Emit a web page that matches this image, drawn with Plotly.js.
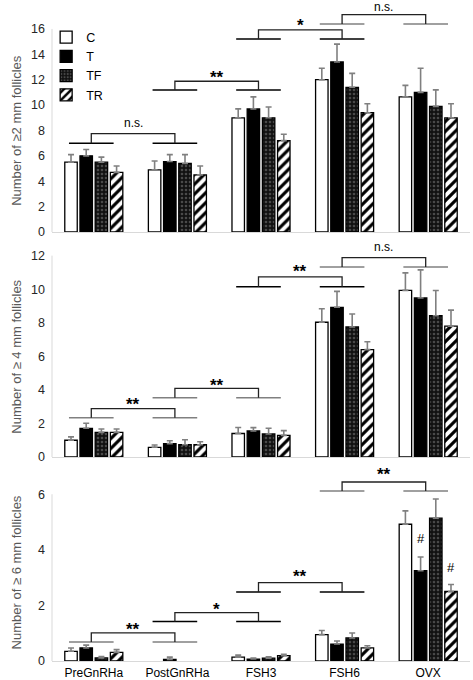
<!DOCTYPE html>
<html><head><meta charset="utf-8">
<script src="https://cdn.plot.ly/plotly-3.0.1.min.js"></script>
<style>html,body{margin:0;padding:0;background:#fff;}</style>
</head><body><div id="chart" style="width:473px;height:680px;"></div>
<script>
// ---- data ----
const categories = ['PreGnRHa','PostGnRHa','FSH3','FSH6','OVX'];
const seriesNames = ['C','T','TF','TR'];

// >=2 mm follicles
const mm2_C  = [5.5, 4.9, 9.0, 12.0, 10.65];
const mm2_T  = [6.0, 5.55, 9.7, 13.4, 11.0];
const mm2_TF = [5.5, 5.4, 9.0, 11.4, 9.9];
const mm2_TR = [4.7, 4.5, 7.2, 9.4, 9.0];
const mm2_C_err  = [0.6, 0.7, 0.7, 0.9, 0.9];
const mm2_T_err  = [0.5, 0.55, 0.95, 1.4, 1.9];
const mm2_TF_err = [0.4, 0.7, 0.85, 1.1, 1.3];
const mm2_TR_err = [0.5, 0.7, 0.5, 0.7, 1.1];

// >=4 mm follicles
const mm4_C  = [1.0, 0.58, 1.4, 8.03, 9.93];
const mm4_T  = [1.71, 0.8, 1.55, 8.92, 9.48];
const mm4_TF = [1.47, 0.73, 1.37, 7.75, 8.42];
const mm4_TR = [1.47, 0.73, 1.29, 6.4, 7.8];
const mm4_C_err  = [0.2, 0.14, 0.36, 0.8, 1.04];
const mm4_T_err  = [0.3, 0.17, 0.2, 0.95, 1.67];
const mm4_TF_err = [0.2, 0.3, 0.34, 0.77, 1.5];
const mm4_TR_err = [0.2, 0.18, 0.28, 0.47, 0.95];

// >=6 mm follicles
const mm6_C  = [0.35, null, 0.14, 0.95, 4.92];
const mm6_T  = [0.47, 0.06, 0.07, 0.61, 3.25];
const mm6_TF = [0.11, null, 0.1, 0.83, 5.14];
const mm6_TR = [0.31, null, 0.19, 0.47, 2.5];
const mm6_C_err  = [0.12, null, 0.07, 0.15, 0.48];
const mm6_T_err  = [0.1, 0.08, 0.04, 0.11, 0.49];
const mm6_TF_err = [0.05, null, 0.05, 0.18, 0.69];
const mm6_TR_err = [0.1, null, 0.05, 0.08, 0.25];

// y axis ticks
const ticks2 = [0,2,4,6,8,10,12,14,16];
const ticks4 = [0,2,4,6,8,10,12];
const ticks6 = [0,2,4,6];

// significance brackets: [groupA, groupB, armBaseY, bracketTopY, label, labelY, armColor]
const brackets2 = [
  [0, 1, 7.0, 7.75, 'n.s.', 8.6, '#000'],
  [1, 2, 11.19, 11.88, '**', 12.5, '#000'],
  [2, 3, 15.21, 15.92, '*', 16.6, '#000'],
  [3, 4, 16.39, 17.12, 'n.s.', 17.72, '#808080']
];
const brackets4 = [
  [0, 1, 2.34, 2.88, '**', 3.35, '#808080'],
  [1, 2, 3.53, 4.09, '**', 4.5, '#808080'],
  [2, 3, 10.15, 10.73, '**', 11.3, '#000'],
  [3, 4, 11.32, 11.88, 'n.s.', 12.5, '#808080']
];
const brackets6 = [
  [0, 1, 0.68, 1.01, '**', 1.28, '#808080'],
  [1, 2, 1.42, 1.74, '*', 2.0, '#000'],
  [2, 3, 2.48, 2.82, '**', 3.2, '#000'],
  [3, 4, 6.12, 6.44, '**', 6.86, '#808080']
];
// '#' marks: [category index, series index, y]
const hashMarks6 = [[4, 1, 4.4], [4, 3, 3.38]];

const yTitles = ['Number of ≥2 mm follicles', 'Number of ≥ 4 mm follicles', 'Number of ≥ 6 mm follicles'];

// ---- styles ----
const FONT = 'Liberation Sans, Arial, sans-serif';
const styles = {
  C:  {color:'#ffffff'},
  T:  {color:'#000000'},
  TF: {color:'#111111', pattern:{shape:'.', fgcolor:'#4a4a4a', bgcolor:'#111111', size:4, solidity:0.35}},
  TR: {color:'#ffffff', pattern:{shape:'/', fgcolor:'#000000', bgcolor:'#ffffff', size:7, solidity:0.45}}
};

const panels = [
  {vals:[mm2_C,mm2_T,mm2_TF,mm2_TR], errs:[mm2_C_err,mm2_T_err,mm2_TF_err,mm2_TR_err], xa:'x', ya:'y', br:brackets2, title:yTitles[0], tcy:8},
  {vals:[mm4_C,mm4_T,mm4_TF,mm4_TR], errs:[mm4_C_err,mm4_T_err,mm4_TF_err,mm4_TR_err], xa:'x2', ya:'y2', br:brackets4, title:yTitles[1], tcy:6},
  {vals:[mm6_C,mm6_T,mm6_TF,mm6_TR], errs:[mm6_C_err,mm6_T_err,mm6_TF_err,mm6_TR_err], xa:'x3', ya:'y3', br:brackets6, title:yTitles[2], tcy:3.2}
];

const traces = [];
panels.forEach((p, pi) => {
  seriesNames.forEach((s, si) => {
    const marker = {color: styles[s].color, line:{color:'#000', width:1.3}};
    if (styles[s].pattern) marker.pattern = styles[s].pattern;
    traces.push({
      type:'bar', name:s, x:categories, y:p.vals[si],
      xaxis:p.xa, yaxis:p.ya, marker:marker,
      legendgroup:s, showlegend: pi === 0,
      error_y:{type:'data', array:p.errs[si], symmetric:false, arrayminus:p.errs[si].map(()=>0),
               color:'#808080', thickness:1.6, width:3},
      hoverinfo:'skip'
    });
  });
});

const shapes = [];
const annotations = [];
const ARM = 0.267, OFF = -0.03;
panels.forEach((p, pi) => {
  // left axis line (to top tick only)
  const topTick = [ticks2, ticks4, ticks6][pi].slice(-1)[0];
  shapes.push({type:'line', xref:'paper', yref:p.ya, x0:0, x1:0, y0:0, y1:topTick, line:{color:'#d9d9d9', width:1}});
  p.br.forEach(b => {
    const [a, c, base, top, label, ly, col] = b;
    const xa = a + OFF, xb = c + OFF;
    shapes.push({type:'line', xref:p.xa, yref:p.ya, x0:xa-ARM, x1:xa+ARM, y0:base, y1:base, line:{color:col, width:1.5}});
    shapes.push({type:'line', xref:p.xa, yref:p.ya, x0:xb-ARM, x1:xb+ARM, y0:base, y1:base, line:{color:col, width:1.5}});
    shapes.push({type:'path', xref:p.xa, yref:p.ya,
      path:`M${xa},${base} L${xa},${top} L${xb},${top} L${xb},${base}`, line:{color:'#222', width:1.3}});
    const isStar = label !== 'n.s.';
    annotations.push({xref:p.xa, yref:p.ya, x:(xa+xb)/2, y:ly, text: isStar ? '<b>'+label+'</b>' : label, showarrow:false,
      yshift: isStar ? -4 : 0,
      font:{family:FONT, size: isStar ? 17 : 12, color:'#000'}});
  });
  annotations.push({xref:'paper', yref:p.ya, x:-0.108, y:p.tcy, text:p.title, textangle:-90, showarrow:false,
    font:{family:FONT, size:13, color:'#595959'}});
});
hashMarks6.forEach(h => {
  annotations.push({xref:'x3', yref:'y3', x:h[0] - 0.273 + h[1]*0.182, y:h[2], text:'#', showarrow:false,
    font:{family:FONT, size:13, color:'#000'}});
});

const yBase = {showgrid:false, zeroline:false, showline:false, ticks:'', tickfont:{family:FONT, size:12.5, color:'#262626'}, ticklabelstandoff:6, fixedrange:true};
const xBase = {type:'category', range:[-0.5, 4.5], showgrid:false, zeroline:false, showline:true, linecolor:'#d9d9d9', linewidth:1, ticks:'', fixedrange:true};

const layout = {
  width:473, height:680,
  margin:{l:52, r:3, t:0, b:19},
  paper_bgcolor:'#fff', plot_bgcolor:'#fff',
  barmode:'group', bargap:0.273, bargroupgap:0.18,
  font:{family:FONT, size:12, color:'#000'},
  xaxis: Object.assign({}, xBase, {anchor:'y', showticklabels:false}),
  xaxis2: Object.assign({}, xBase, {anchor:'y2', showticklabels:false}),
  xaxis3: Object.assign({}, xBase, {anchor:'y3', showticklabels:true, tickfont:{family:FONT, size:12, color:'#000'}, ticklabelstandoff:1}),
  yaxis: Object.assign({}, yBase, {domain:[0.649, 1], range:[0, 18.28], tickvals:ticks2}),
  yaxis2: Object.assign({}, yBase, {domain:[0.3086, 0.6369], range:[0, 12.93], tickvals:ticks4}),
  yaxis3: Object.assign({}, yBase, {domain:[0, 0.304], range:[0, 7.23], tickvals:ticks6}),
  legend:{x:-0.014, y:0.966, xanchor:'left', yanchor:'top', bgcolor:'rgba(0,0,0,0)', font:{family:FONT, size:12.5, color:'#000'}, itemwidth:30, tracegroupgap:0},
  shapes:shapes, annotations:annotations
};

Plotly.newPlot('chart', traces, layout, {displayModeBar:false, staticPlot:true});
</script>
</body></html>
